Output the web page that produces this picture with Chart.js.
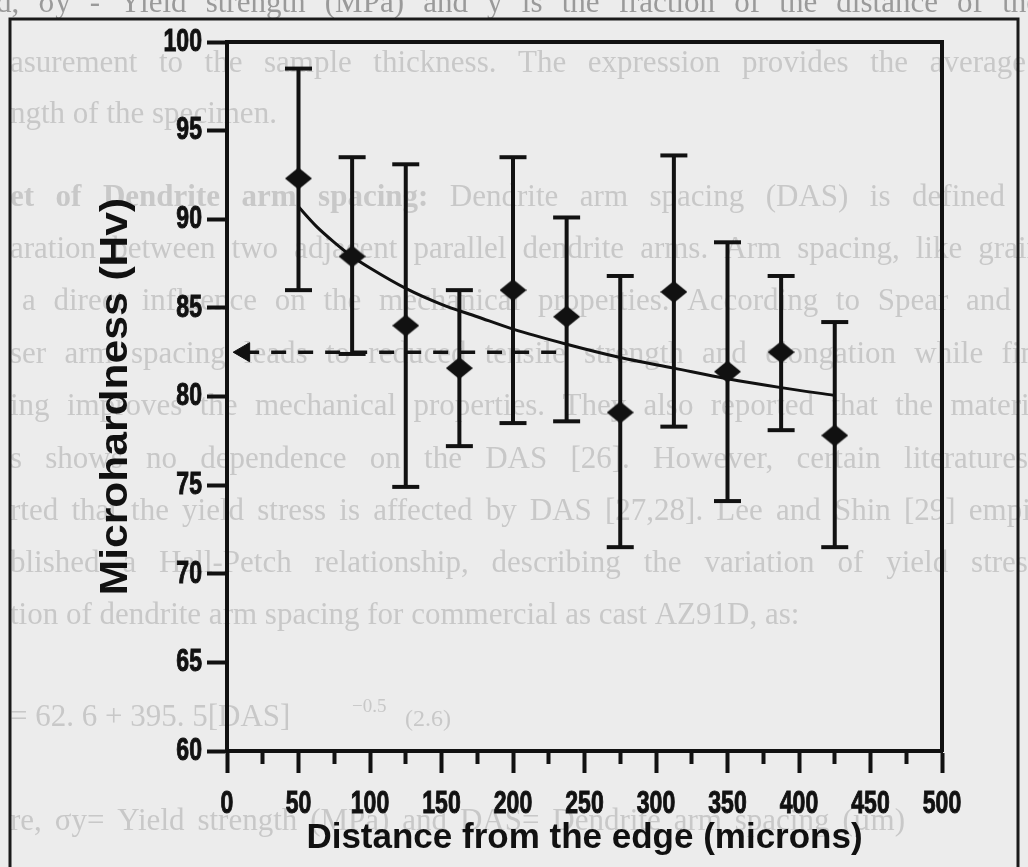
<!DOCTYPE html>
<html>
<head>
<meta charset="utf-8">
<style>
  html, body { margin: 0; padding: 0; background: #ececec; }
  canvas { display: block; }
</style>
<script src="https://cdn.jsdelivr.net/npm/chart.js@4.4.1/dist/chart.umd.min.js"></script>
</head>
<body>
<canvas id="chart" width="1028" height="867"></canvas>
<script>
// ---- data ----
const distance = [50, 87.5, 125, 162.5, 200, 237.5, 275, 312.5, 350, 387.5, 425];
const meanHv   = [92.3, 87.9, 84.0, 81.6, 86.0, 84.5, 79.1, 85.9, 81.4, 82.5, 77.8];
const upperHv  = [98.5, 93.5, 93.1, 86.0, 93.5, 90.1, 86.8, 93.6, 88.7, 86.8, 84.2];
const lowerHv  = [86.0, 82.4, 74.9, 77.2, 78.5, 78.6, 71.5, 78.3, 74.1, 78.1, 71.5];

const trendDistance = [50, 62.5, 75, 87.5, 100, 125, 150, 175, 200, 237.5, 275, 312.5, 350, 387.5, 425];
const trendHv       = [90.7, 89.6, 88.7, 87.9, 87.25, 86.1, 85.2, 84.5, 83.8, 82.95, 82.2, 81.6, 81.0, 80.5, 80.06];

const averageDistance = [12, 232];
const averageHv       = [82.5, 82.5];

const xMajorTicks = [0, 50, 100, 150, 200, 250, 300, 350, 400, 450, 500];
const xMinorTicks = [25, 75, 125, 175, 225, 275, 325, 375, 425, 475];
const yTicks      = [60, 65, 70, 75, 80, 85, 90, 95, 100];

const xTitle = 'Distance from the edge (microns)';
const yTitle = 'Microhardness (Hv)';

// faint bleed-through text of the scanned page
const pageLines = [
  { t: 'd, σy - Yield strength (MPa) and y is the fraction of the distance of the', x0: -4, x1: 1040, y: 12, c: '#9a9a9a' },
  { t: 'asurement to the sample thickness. The expression provides the average', x0: 10, x1: 1026, y: 72 },
  { t: 'ngth of the specimen.', x0: 10, x1: null, y: 123 },
  { t: 'et of Dendrite arm spacing: Dendrite arm spacing (DAS) is defined', x0: 10, x1: 1005, y: 206, bw: 5 },
  { t: 'aration between two adjacent parallel dendrite arms. Arm spacing, like grain', x0: 10, x1: 1042, y: 258 },
  { t: 'a direct influence on the mechanical properties. According to Spear and Gardner', x0: 22, x1: 1130, y: 310 },
  { t: 'ser arm spacing leads to reduced tensile strength and elongation while finer', x0: 10, x1: 1060, y: 363 },
  { t: 'ing improves the mechanical properties. They also reported that the material', x0: 10, x1: 1052, y: 415 },
  { t: 's shows no dependence on the DAS [26]. However, certain literatures', x0: 10, x1: 1028, y: 468 },
  { t: 'rted that the yield stress is affected by DAS [27,28]. Lee and Shin [29] empirically', x0: 10, x1: 1110, y: 520 },
  { t: 'blished a Hall-Petch relationship, describing the variation of yield stress', x0: 10, x1: 1040, y: 572 },
  { t: 'tion of dendrite arm spacing for commercial as cast AZ91D, as:', x0: 10, x1: null, y: 624 },
  { t: 're, σy= Yield strength (MPa) and DAS= Dendrite arm spacing (µm)', x0: 10, x1: 905, y: 830 }
];

// ---- styling helpers ----
const INK = '#111111';
const SANS = '"Liberation Sans", Arial, Helvetica, sans-serif';
const SERIF = '"Liberation Serif", "Times New Roman", serif';

// horizontal stretch per font size, emulating the condensed / wide faces of the figure
const TEXT_STRETCH = { 32: 0.72, 38: 1.12 };

function makeDiamond(w, h, color) {
  const c = document.createElement('canvas');
  c.width = w; c.height = h;
  const g = c.getContext('2d');
  g.fillStyle = color;
  g.beginPath();
  g.moveTo(w / 2, 0); g.lineTo(w, h / 2); g.lineTo(w / 2, h); g.lineTo(0, h / 2);
  g.closePath(); g.fill();
  return c;
}

function measureWords(ctx, words, boldCount, size) {
  return words.map((w, i) => {
    ctx.font = (i < boldCount ? 'bold ' : '') + size + 'px ' + SERIF;
    return ctx.measureText(w).width;
  });
}

function drawJustified(ctx, l, size) {
  const words = l.t.split(' ');
  const bw = l.bw || 0;
  const widths = measureWords(ctx, words, bw, size);
  const total = widths.reduce((a, b) => a + b, 0);
  const natural = ctx.measureText(' ').width;
  const gap = (l.x1 == null || words.length < 2) ? natural : (l.x1 - l.x0 - total) / (words.length - 1);
  let x = l.x0;
  words.forEach((w, i) => {
    ctx.font = (i < bw ? 'bold ' : '') + size + 'px ' + SERIF;
    ctx.fillText(w, x, l.y);
    x += widths[i] + gap;
  });
}

const scanPage = {
  id: 'scanPage',
  beforeDraw(chart) {
    const ctx = chart.ctx;
    ctx.save();
    ctx.fillStyle = '#ececec';
    ctx.fillRect(0, 0, chart.width, chart.height);
    ctx.textBaseline = 'alphabetic';
    ctx.textAlign = 'left';
    pageLines.forEach(l => {
      ctx.fillStyle = l.c || '#c8c8c8';
      drawJustified(ctx, l, 31);
    });
    // equation line
    ctx.fillStyle = '#c8c8c8';
    ctx.font = '31px ' + SERIF;
    ctx.fillText('= 62. 6 + 395. 5[DAS]', 10, 726);
    ctx.font = '19px ' + SERIF;
    ctx.fillText('−0.5', 352, 712);
    ctx.font = '24px ' + SERIF;
    ctx.fillText('(2.6)', 405, 726);
    // page frame
    ctx.strokeStyle = '#1a1a1a';
    ctx.lineWidth = 3;
    ctx.beginPath();
    ctx.moveTo(10, 880); ctx.lineTo(10, 19); ctx.lineTo(1018, 19); ctx.lineTo(1018, 880);
    ctx.stroke();
    ctx.restore();
  }
};

// error bars as one line dataset broken by gaps
const errorBarPoints = [];
distance.forEach((d, i) => {
  errorBarPoints.push({ x: d, y: lowerHv[i] });
  errorBarPoints.push({ x: d, y: upperHv[i] });
  errorBarPoints.push({ x: d, y: null });
});

const canvas = document.getElementById('chart');
const c2d = canvas.getContext('2d');
function stretchText(base) {
  return function (text, x, y, maxWidth) {
    const m = /(\d+(?:\.\d+)?)px/.exec(this.font);
    const k = m ? TEXT_STRETCH[Math.round(parseFloat(m[1]))] : undefined;
    if (!k) {
      return maxWidth === undefined ? base(text, x, y) : base(text, x, y, maxWidth);
    }
    this.save();
    this.translate(x, y);
    this.scale(k, 1);
    if (maxWidth === undefined) base(text, 0, 0); else base(text, 0, 0, maxWidth / k);
    this.restore();
  };
}
c2d.fillText = stretchText(c2d.fillText.bind(c2d));
c2d.strokeText = stretchText(c2d.strokeText.bind(c2d));

const tickFont = { family: SANS, size: 32, weight: 'bold' };
const xTitleFont = { family: SANS, size: 35, weight: 'bold' };
const yTitleFont = { family: SANS, size: 38, weight: 'bold' };

new Chart(canvas, {
  type: 'line',
  data: {
    datasets: [
      {
        label: 'Mean',
        data: distance.map((d, i) => ({ x: d, y: meanHv[i] })),
        showLine: false,
        pointStyle: makeDiamond(27, 22, INK),
        pointRadius: 12,
        pointHoverRadius: 12
      },
      {
        label: 'Error',
        data: errorBarPoints,
        borderColor: INK,
        borderWidth: 4,
        spanGaps: false,
        pointStyle: 'line',
        pointRadius: 13.5,
        pointHoverRadius: 13.5,
        pointBorderWidth: 4,
        pointBorderColor: INK,
        pointBackgroundColor: INK
      },
      {
        label: 'Trend',
        data: trendDistance.map((d, i) => ({ x: d, y: trendHv[i] })),
        borderColor: INK,
        borderWidth: 3,
        pointRadius: 0,
        cubicInterpolationMode: 'monotone'
      },
      {
        label: 'Average',
        data: averageDistance.map((d, i) => ({ x: d, y: averageHv[i] })),
        borderColor: INK,
        borderWidth: 3.5,
        borderDash: [15, 12],
        pointStyle: 'triangle',
        pointRotation: -90,
        pointRadius: [11, 0],
        pointBackgroundColor: INK,
        pointBorderColor: INK,
        pointBorderWidth: 1
      }
    ]
  },
  options: {
    responsive: false,
    animation: false,
    devicePixelRatio: 1,
    layout: { padding: 0 },
    plugins: { legend: { display: false }, tooltip: { enabled: false } },
    scales: {
      x: {
        type: 'linear', position: 'bottom', min: 0, max: 500,
        afterFit: s => { s.height = 116; },
        afterBuildTicks: s => {
          s.ticks = xMajorTicks.concat(xMinorTicks).sort((a, b) => a - b).map(v => ({ value: v }));
        },
        ticks: {
          autoSkip: false, maxRotation: 0, color: INK, font: tickFont, padding: 12,
          textStrokeColor: INK, textStrokeWidth: 1,
          callback: v => xMajorTicks.includes(v) ? String(v) : ''
        },
        grid: {
          drawOnChartArea: false, drawTicks: true, tickLength: 22, tickWidth: 4, tickColor: INK,
          tickBorderDash: c => (c.tick && !xMajorTicks.includes(c.tick.value)) ? [11, 100] : []
        },
        border: { display: true, color: INK, width: 4 },
        title: { display: true, text: xTitle, color: INK, font: xTitleFont, padding: { top: 0, bottom: 8 } }
      },
      y: {
        type: 'linear', position: 'left', min: 60, max: 100,
        afterFit: s => { s.width = 227; },
        afterBuildTicks: s => { s.ticks = yTicks.map(v => ({ value: v })); },
        ticks: { color: INK, font: tickFont, padding: 5, textStrokeColor: INK, textStrokeWidth: 1 },
        grid: { drawOnChartArea: false, drawTicks: true, tickLength: 20, tickWidth: 4, tickColor: INK },
        border: { display: true, color: INK, width: 4 },
        title: { display: true, text: yTitle, color: INK, font: yTitleFont, padding: { top: 94, bottom: 0 } }
      },
      xTop: {
        type: 'linear', position: 'top', min: 0, max: 1, display: true,
        afterFit: s => { s.height = 42; },
        ticks: { display: false },
        grid: { drawOnChartArea: false, drawTicks: false },
        border: { display: true, color: INK, width: 4 }
      },
      yRight: {
        type: 'linear', position: 'right', min: 0, max: 1, display: true,
        afterFit: s => { s.width = 86; },
        ticks: { display: false },
        grid: { drawOnChartArea: false, drawTicks: false },
        border: { display: true, color: INK, width: 4 }
      }
    }
  },
  plugins: [scanPage]
});
</script>
</body>
</html>
